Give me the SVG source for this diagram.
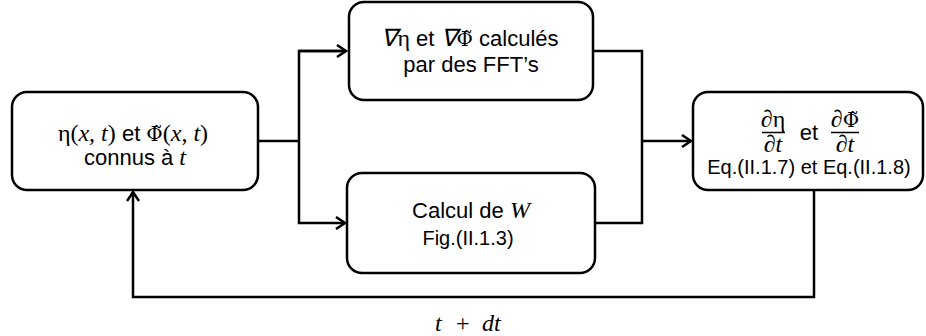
<svg xmlns="http://www.w3.org/2000/svg" width="926" height="336" viewBox="0 0 926 336">
<defs>
<style>
.box{fill:#fff;stroke:#000;stroke-width:2.5}
.ln{fill:none;stroke:#000;stroke-width:2.5}
.t{font-family:"Liberation Sans",Arial,sans-serif;font-size:22px;fill:#000;text-anchor:middle}
.s{font-size:20px}
.m{font-family:"Liberation Serif","Times New Roman",serif;font-size:24px}
.i{font-style:italic}
.ph{font-family:"DejaVu Serif",serif;font-size:20px}
</style>
<marker id="ah" markerWidth="14" markerHeight="14" refX="11" refY="7" orient="auto" markerUnits="userSpaceOnUse">
<polyline points="2,1 11,7 2,13" fill="none" stroke="#000" stroke-width="2.5"/>
</marker>
</defs>
<rect width="926" height="336" fill="#fff"/>
<g id="connectors">
<polyline class="ln" points="258,141 299,141"/>
<polyline class="ln" points="346,51 299,51 299,223 345,223" marker-end="url(#ah)"/>
<line class="ln" x1="299" y1="51" x2="346" y2="51" marker-end="url(#ah)"/>
<polyline class="ln" points="593,51 642,51 642,223 595,223"/>
<line class="ln" x1="642" y1="141" x2="691" y2="141" marker-end="url(#ah)"/>
<polyline class="ln" points="814,190 814,297 133,297 133,192" marker-end="url(#ah)"/>
<text class="m i" x="435" y="331" font-size="25" fill="#000">t<tspan x="456" font-style="normal">+</tspan><tspan x="482">dt</tspan></text>
</g>
<g id="n_init">
<rect class="box" x="12" y="92" width="246" height="98" rx="15"/>
<text class="t" x="133" y="141"><tspan class="m">η(</tspan><tspan class="m i">x</tspan><tspan class="m">, </tspan><tspan class="m i">t</tspan><tspan class="m">)</tspan> et <tspan class="ph">Φ̃</tspan><tspan class="m">(</tspan><tspan class="m i">x</tspan><tspan class="m">, </tspan><tspan class="m i">t</tspan><tspan class="m">)</tspan></text>
<text class="t" x="135" y="165">connus à <tspan class="m i">t</tspan></text>
</g>
<g id="n_fft">
<rect class="box" x="349" y="2" width="244" height="98" rx="15"/>
<text class="t" x="470" y="46"><tspan class="m i">∇</tspan><tspan class="m">η</tspan> et <tspan class="m i">∇</tspan><tspan class="ph">Φ̃</tspan> calculés</text>
<text class="t" x="471" y="72">par des FFT’s</text>
</g>
<g id="n_w">
<rect class="box" x="347" y="173" width="248" height="100" rx="15"/>
<text class="t" x="471" y="218">Calcul de <tspan class="m i">W</tspan></text>
<text class="t s" x="468" y="245">Fig.(II.1.3)</text>
</g>
<g id="n_deriv">
<rect class="box" x="693" y="92" width="230" height="98" rx="15"/>
<text class="t m" x="773" y="127"><tspan class="i">∂</tspan>η</text>
<line x1="762" y1="132.5" x2="785" y2="132.5" stroke="#000" stroke-width="1.5"/>
<text class="t m i" x="773" y="152">∂t</text>
<text class="t" x="809" y="140">et</text>
<text class="t m" x="845" y="127"><tspan class="i">∂</tspan><tspan class="ph">Φ̃</tspan></text>
<line x1="831" y1="132.5" x2="859" y2="132.5" stroke="#000" stroke-width="1.5"/>
<text class="t m i" x="845" y="152">∂t</text>
<text class="t s" x="809" y="174">Eq.(II.1.7) et Eq.(II.1.8)</text>
</g>
</svg>
